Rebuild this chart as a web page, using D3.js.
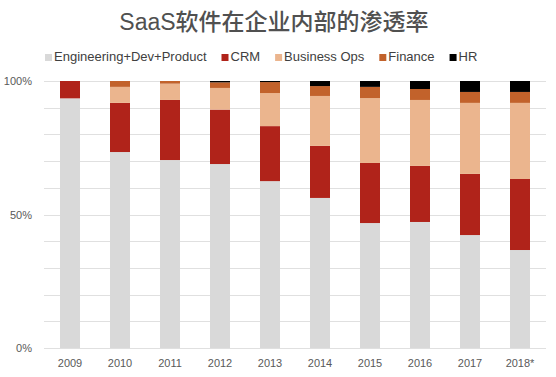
<!DOCTYPE html>
<html lang="zh">
<head>
  <meta charset="UTF-8">
  <title>SaaS软件在企业内部的渗透率</title>
  <script src="https://cdn.jsdelivr.net/npm/d3@7/dist/d3.min.js"></script>
  <style>
    body { margin: 0; background: #fff; }
    text { font-family: "Liberation Sans", Arial, "Noto Sans CJK SC", sans-serif; }
  </style>
</head>
<body>
<svg></svg>
<script>
  const width = 556, height = 377
  const margin = {top: 81, right: 10, bottom: 29, left: 45}

  // data (percent of total)
  const years = ['2009', '2010', '2011', '2012', '2013', '2014', '2015', '2016', '2017', '2018*']
  const seriesNames = ['Engineering+Dev+Product', 'CRM', 'Business Ops', 'Finance', 'HR']
  const engineering = [93.5, 73.4, 70.4, 68.9, 62.5, 56.2, 46.8, 47.2, 42.3, 36.7]
  const crm         = [6.5, 18.4, 22.5, 20.4, 20.6, 19.5, 22.5, 21.0, 22.9, 26.6]
  const businessOps = [0, 6.0, 6.1, 8.1, 12.4, 18.7, 24.3, 24.7, 26.6, 28.5]
  const finance     = [0, 2.2, 1.0, 2.1, 4.1, 3.7, 4.2, 4.1, 4.1, 4.1]
  const hr          = [0, 0, 0, 0.5, 0.4, 1.9, 2.2, 3.0, 4.1, 4.1]
  const yTicks = [0, 0.5, 1]

  const colors = ['#d9d9d9', '#b0231a', '#ebb58e', '#c2622b', '#000000']

  const svg = d3.select('svg')
      .attr('width', width)
      .attr('height', height)
      .attr('viewBox', [0, 0, width, height])

  // build table for d3.stack
  const cols = [engineering, crm, businessOps, finance, hr]
  const table = years.map((y, i) => {
    const row = {year: y}
    seriesNames.forEach((s, j) => row[s] = cols[j][i])
    return row
  })

  const stacked = d3.stack()
      .keys(seriesNames)
      .offset(d3.stackOffsetExpand)(table)

  const x = d3.scaleBand()
      .domain(years)
      .range([margin.left, width - margin.right - 1])
      .paddingInner(0.6)
      .paddingOuter(0.3)

  const y = d3.scaleLinear()
      .domain([0, 1])
      .range([height - margin.bottom, margin.top])

  // gridlines every 10%
  svg.append('g')
      .selectAll('line')
      .data(d3.range(0, 1.01, 0.1))
      .join('line')
      .attr('x1', margin.left - 1)
      .attr('x2', width - margin.right)
      .attr('y1', d => Math.round(y(d)) + 0.5)
      .attr('y2', d => Math.round(y(d)) + 0.5)
      .attr('stroke', '#e0e0e0')
      .attr('stroke-width', 1)

  // bars
  svg.append('g')
      .selectAll('g')
      .data(stacked)
      .join('g')
      .attr('fill', (d, i) => colors[i])
      .selectAll('rect')
      .data(d => d)
      .join('rect')
      .attr('x', d => x(d.data.year))
      .attr('width', x.bandwidth())
      .attr('y', d => y(d[1]))
      .attr('height', d => y(d[0]) - y(d[1]))

  // y axis labels
  const yAxis = svg.append('g')
      .attr('transform', `translate(${margin.left - 10},0)`)
      .call(d3.axisLeft(y).tickValues(yTicks).tickFormat(d3.format('.0%')).tickSize(0))
  yAxis.select('.domain').remove()
  yAxis.selectAll('text')
      .attr('font-size', 11)
      .attr('fill', '#595959')
      .style('font-family', '"Liberation Sans", Arial, sans-serif')

  // x axis labels
  const xAxis = svg.append('g')
      .attr('transform', `translate(0,${height - margin.bottom + 8})`)
      .call(d3.axisBottom(x).tickSize(0))
  xAxis.select('.domain').remove()
  xAxis.selectAll('text')
      .attr('font-size', 11)
      .attr('fill', '#595959')
      .style('font-family', '"Liberation Sans", Arial, sans-serif')

  // title
  svg.append('text')
      .attr('x', width / 2 - 4)
      .attr('y', 30)
      .attr('text-anchor', 'middle')
      .attr('font-size', 23)
      .attr('font-weight', 500)
      .attr('fill', '#505050')
      .text('SaaS软件在企业内部的渗透率')

  // legend
  const legend = svg.append('g')
  const items = legend.selectAll('g')
      .data(seriesNames)
      .join('g')
  items.append('rect')
      .attr('width', 7)
      .attr('height', 7)
      .attr('y', -7)
      .attr('fill', (d, i) => colors[i])
  items.append('text')
      .attr('x', 9)
      .attr('font-size', 13)
      .attr('fill', '#404040')
      .text(d => d)

  let cx = 0
  const gap = 15
  items.each(function () {
    const w = this.querySelector('text').getComputedTextLength() + 9
    d3.select(this).attr('transform', `translate(${cx},0)`)
    cx += w + gap
  })
  legend.attr('transform', 'translate(45,61)')
</script>
</body>
</html>
